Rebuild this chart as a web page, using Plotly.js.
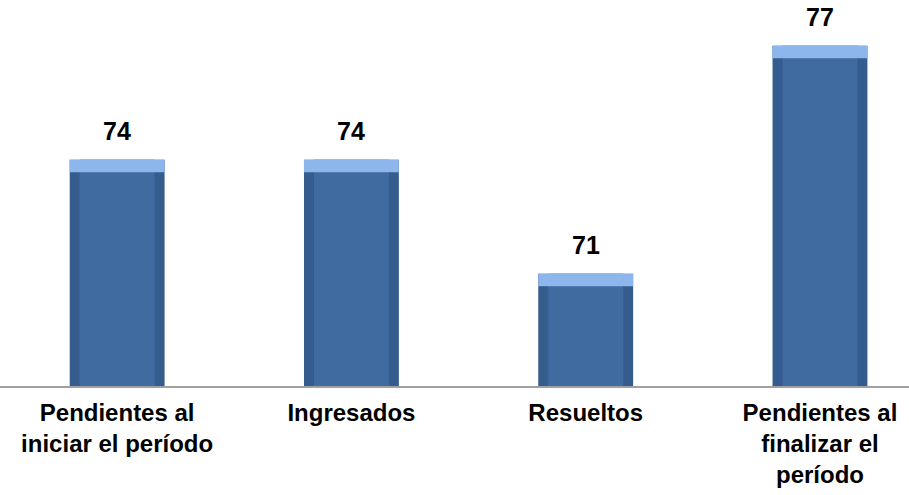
<!DOCTYPE html>
<html>
<head>
<meta charset="utf-8">
<script src="https://cdn.plot.ly/plotly-3.0.1.min.js"></script>
<style>html,body{margin:0;padding:0;background:#fff}#chart{width:909px;height:495px}</style>
</head>
<body>
<div id="chart"></div>
<script>
const categories = ["Pendientes al<br>iniciar el período", "Ingresados", "Resueltos", "Pendientes al<br>finalizar el<br>período"];
const values = [74, 74, 71, 77];

const topDepth = 0.33;
const font = "Arial, 'Liberation Sans', sans-serif";

const sides = {type: "bar", x: categories, y: values, width: 0.405,
  marker: {color: "#345d8e", line: {width: 0}}, hoverinfo: "skip"};
const face = {type: "bar", x: categories, y: values, width: 0.32,
  marker: {color: "#3f6ba1", line: {width: 0}}, hoverinfo: "skip"};
const topFace = {type: "bar", x: categories, y: values.map(() => topDepth),
  base: values.map(v => v - topDepth), width: 0.405,
  marker: {color: "#8cb6ec", line: {width: 0}}, hoverinfo: "skip"};

const annotations = values.map((v, i) => ({
  x: categories[i], y: v, text: "<b>" + v + "</b>", showarrow: false,
  yanchor: "bottom", yshift: 13, font: {family: font, size: 25, color: "#000"}
}));

const layout = {
  width: 909, height: 495,
  margin: {l: 0, r: 0, t: 0, b: 109},
  paper_bgcolor: "#fff", plot_bgcolor: "#fff",
  barmode: "overlay", showlegend: false,
  xaxis: {range: [-0.5, 3.38], showgrid: false, zeroline: false,
    showline: true, linecolor: "#a0a0a0", linewidth: 2, ticks: "",
    ticklabelstandoff: 4,
    tickfont: {family: font, size: 24, color: "#000", weight: "bold"}},
  yaxis: {range: [68.05, 78.2], visible: false, showgrid: false, zeroline: false},
  annotations: annotations
};

Plotly.newPlot("chart", [sides, face, topFace], layout, {displayModeBar: false, staticPlot: true});
</script>
</body>
</html>
